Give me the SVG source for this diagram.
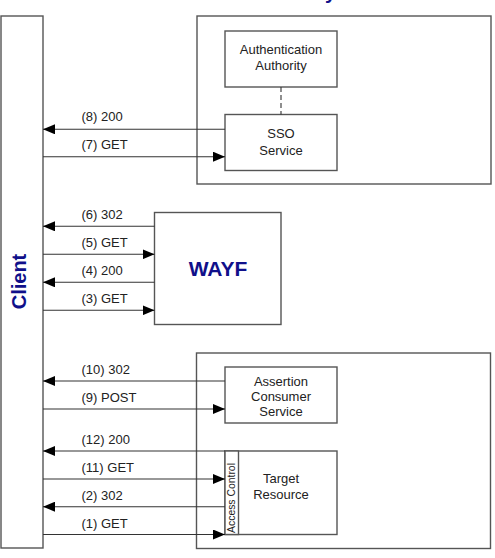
<svg xmlns="http://www.w3.org/2000/svg" width="495" height="558" viewBox="0 0 495 558">
<style>
.box{fill:#fff;stroke:#555;stroke-width:1.4}
.ln{stroke:#333;stroke-width:1.1;fill:none}
.t{font-family:"Liberation Sans",Arial,sans-serif;font-size:13px;fill:#222}
.ac{font-family:"Liberation Sans",Arial,sans-serif;font-size:10.4px;fill:#222;text-anchor:middle}
.c{text-anchor:middle}
.big{font-family:"Liberation Sans",Arial,sans-serif;font-weight:bold;fill:#10108a}
</style>
<defs>
<marker id="ah" markerWidth="12" markerHeight="10" refX="12" refY="5" orient="auto" markerUnits="userSpaceOnUse">
<path d="M0,0 L12,5 L0,10 Z" fill="#000"/>
</marker>
</defs>
<rect width="495" height="558" fill="#fff"/>
<text class="big c" x="344" y="-1" font-size="20">Identity Provider</text>
<g id="client">
<rect class="box" x="1" y="16" width="42" height="532"/>
<text class="big c" font-size="20" transform="translate(26,281.5) rotate(-90)">Client</text>
</g>
<g id="idp">
<rect class="box" x="197" y="16" width="294" height="168"/>
</g>
<g id="auth">
<rect class="box" x="225" y="31" width="112" height="56"/>
<text class="t c" x="281" y="54">Authentication</text>
<text class="t c" x="281" y="70">Authority</text>
</g>
<g id="sso">
<rect class="box" x="225" y="114.5" width="112" height="56"/>
<text class="t c" x="281" y="138">SSO</text>
<text class="t c" x="281" y="155">Service</text>
</g>
<g id="wayf">
<rect class="box" x="154.5" y="212.5" width="126.5" height="112"/>
<text class="big c" x="218" y="276" font-size="21">WAYF</text>
</g>
<g id="sp">
<rect class="box" x="196.5" y="353" width="294" height="195.5"/>
</g>
<g id="acs">
<rect class="box" x="225" y="367" width="112" height="56"/>
<text class="t c" x="281" y="385.5">Assertion</text>
<text class="t c" x="281" y="400.5">Consumer</text>
<text class="t c" x="281" y="416">Service</text>
</g>
<g id="target">
<rect class="box" x="225" y="451" width="112" height="83.5"/>
<rect class="box" x="225" y="451" width="13.5" height="83.5"/>
<text class="ac" transform="translate(235,498) rotate(-90)">Access Control</text>
<text class="t c" x="281" y="483">Target</text>
<text class="t c" x="281" y="498.5">Resource</text>
</g>
<g id="connectors">
<line class="ln" x1="281" y1="87" x2="281" y2="114.5" stroke-dasharray="5,3"/>
<line class="ln" x1="225" y1="129.3" x2="43" y2="129.3" marker-end="url(#ah)"/>
<line class="ln" x1="43" y1="156.7" x2="225" y2="156.7" marker-end="url(#ah)"/>
<line class="ln" x1="154.5" y1="226.3" x2="43" y2="226.3" marker-end="url(#ah)"/>
<line class="ln" x1="43" y1="254.3" x2="154.5" y2="254.3" marker-end="url(#ah)"/>
<line class="ln" x1="154.5" y1="282.3" x2="43" y2="282.3" marker-end="url(#ah)"/>
<line class="ln" x1="43" y1="310.3" x2="154.5" y2="310.3" marker-end="url(#ah)"/>
<line class="ln" x1="225" y1="381" x2="43" y2="381" marker-end="url(#ah)"/>
<line class="ln" x1="43" y1="409" x2="225" y2="409" marker-end="url(#ah)"/>
<line class="ln" x1="225" y1="451" x2="43" y2="451" marker-end="url(#ah)"/>
<line class="ln" x1="43" y1="479" x2="225" y2="479" marker-end="url(#ah)"/>
<line class="ln" x1="225" y1="506.7" x2="43" y2="506.7" marker-end="url(#ah)"/>
<line class="ln" x1="43" y1="534.5" x2="225" y2="534.5" marker-end="url(#ah)"/>
<text class="t" x="81.5" y="121">(8) 200</text>
<text class="t" x="81.5" y="149">(7) GET</text>
<text class="t" x="81.5" y="219">(6) 302</text>
<text class="t" x="81.5" y="247">(5) GET</text>
<text class="t" x="81.5" y="275">(4) 200</text>
<text class="t" x="81.5" y="303">(3) GET</text>
<text class="t" x="81.5" y="374">(10) 302</text>
<text class="t" x="81.5" y="402">(9) POST</text>
<text class="t" x="81.5" y="444">(12) 200</text>
<text class="t" x="81.5" y="472">(11) GET</text>
<text class="t" x="81.5" y="500">(2) 302</text>
<text class="t" x="81.5" y="528">(1) GET</text>
</g>
</svg>
